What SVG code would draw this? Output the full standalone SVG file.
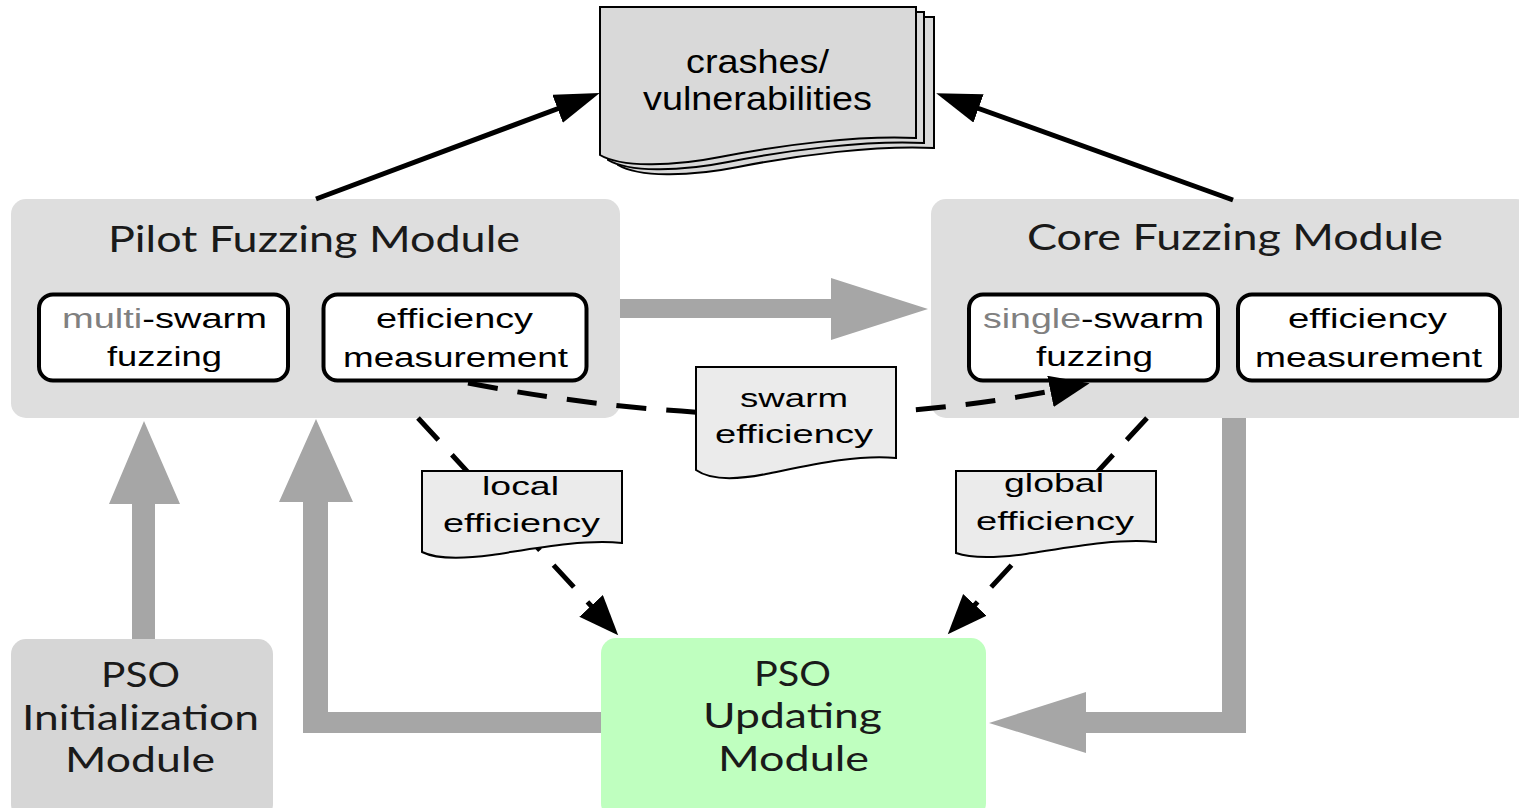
<svg xmlns="http://www.w3.org/2000/svg" xmlns:xlink="http://www.w3.org/1999/xlink" width="1519" height="808" viewBox="0 0 1519 808">
<style>
.module{fill:#dedede}
.sub{fill:#ffffff;stroke:#000;stroke-width:4}
.doc{fill:#ebebeb;stroke:#000;stroke-width:2}
.page{fill:#d9d9d9;stroke:#000;stroke-width:2}
.garrow{fill:#a6a6a6}
.solid{stroke:#000;stroke-width:5;fill:none}
.dash{stroke:#000;stroke-width:5;fill:none;stroke-dasharray:30 20}
.ar{font-family:"Liberation Sans",Arial,sans-serif;fill:#000}
.ttl{font-family:Lato,"DejaVu Sans",sans-serif;fill:#1a1a1a}
.grey{fill:#808080}
</style>
<defs>
<marker id="headSolid" markerUnits="userSpaceOnUse" markerWidth="46" markerHeight="32" refX="25" refY="15" orient="auto">
<path d="M0,0 L45,15 L0,30 Z" fill="#000"/>
</marker>
<marker id="headDash" markerUnits="userSpaceOnUse" markerWidth="42" markerHeight="34" refX="22" refY="16" orient="auto">
<path d="M0,0 L40,16 L0,32 Z" fill="#000"/>
</marker>
<path id="pageShape" d="M600,7 H916 V138 C860,135 780,145 720,157 C670,167 620,167 600,155 Z"/>
</defs>

<g id="pilot-module">
<rect class="module" x="11" y="199" width="609" height="219" rx="15"/>
<text class="ttl" x="108" y="252" font-size="37" textLength="412" lengthAdjust="spacingAndGlyphs">Pilot Fuzzing Module</text>
</g>
<g id="core-module">
<rect class="module" x="931" y="199" width="600" height="219" rx="15"/>
<text class="ttl" x="1027" y="250" font-size="37" textLength="416" lengthAdjust="spacingAndGlyphs">Core Fuzzing Module</text>
</g>
<g id="multi-swarm">
<rect class="sub" x="39" y="294.5" width="249" height="86" rx="14"/>
<text class="ar" x="62" y="328" font-size="27" textLength="205" lengthAdjust="spacingAndGlyphs"><tspan class="grey">multi</tspan>-swarm</text>
<text class="ar" x="107" y="366" font-size="27" textLength="115" lengthAdjust="spacingAndGlyphs">fuzzing</text>
</g>
<g id="pilot-efficiency">
<rect class="sub" x="323.5" y="294.5" width="263" height="86" rx="14"/>
<text class="ar" x="376" y="328" font-size="27" textLength="157" lengthAdjust="spacingAndGlyphs">efficiency</text>
<text class="ar" x="343" y="367" font-size="27" textLength="225" lengthAdjust="spacingAndGlyphs">measurement</text>
</g>
<g id="single-swarm">
<rect class="sub" x="969" y="294.5" width="249" height="86" rx="14"/>
<text class="ar" x="983" y="328" font-size="27" textLength="221" lengthAdjust="spacingAndGlyphs"><tspan class="grey">single</tspan>-swarm</text>
<text class="ar" x="1036" y="366" font-size="27" textLength="117" lengthAdjust="spacingAndGlyphs">fuzzing</text>
</g>
<g id="core-efficiency">
<rect class="sub" x="1238" y="294.5" width="262" height="86" rx="14"/>
<text class="ar" x="1288" y="328" font-size="27" textLength="159" lengthAdjust="spacingAndGlyphs">efficiency</text>
<text class="ar" x="1255" y="367" font-size="27" textLength="227" lengthAdjust="spacingAndGlyphs">measurement</text>
</g>
<g id="pso-init">
<rect x="11" y="639" width="262" height="180" rx="15" fill="#d6d6d6"/>
<text class="ttl" x="101" y="687" font-size="35" textLength="79" lengthAdjust="spacingAndGlyphs">PSO</text>
<text class="ttl" x="22" y="730" font-size="35" textLength="237" lengthAdjust="spacingAndGlyphs">Initialization</text>
<text class="ttl" x="65" y="772" font-size="35" textLength="150" lengthAdjust="spacingAndGlyphs">Module</text>
</g>
<g id="pso-update">
<rect x="601" y="638" width="385" height="180" rx="15" fill="#bfffbf"/>
<text class="ttl" x="754" y="686" font-size="35" textLength="77" lengthAdjust="spacingAndGlyphs">PSO</text>
<text class="ttl" x="703" y="728" font-size="35" textLength="179" lengthAdjust="spacingAndGlyphs">Updating</text>
<text class="ttl" x="718" y="771" font-size="35" textLength="151" lengthAdjust="spacingAndGlyphs">Module</text>
</g>

<g id="connectors">
<path class="garrow" d="M620,299 H831 V278 L928,309 L831,340 V318 H620 Z"/>
<path class="garrow" d="M132,639 V504 H109 L144,421 L180,504 H155 V639 Z"/>
<path class="garrow" d="M601,712 H328 V502 H353 L316,419 L279,502 H303 V733 H601 Z"/>
<path class="garrow" d="M1222,418 H1246 V733 H1086 V753 L989,723 L1086,692 V712 H1222 Z"/>
<line class="solid" x1="316" y1="199" x2="581" y2="100" marker-end="url(#headSolid)"/>
<line class="solid" x1="1233" y1="200" x2="955" y2="100" marker-end="url(#headSolid)"/>
<path class="dash" d="M468,383 Q790,445 1072,387" marker-end="url(#headDash)"/>
<line class="dash" x1="418" y1="418" x2="606" y2="622" marker-end="url(#headDash)"/>
<line class="dash" x1="1147" y1="418" x2="960" y2="621" marker-end="url(#headDash)"/>
</g>

<g id="crashes">
<use xlink:href="#pageShape" class="page" transform="translate(18,10)"/>
<use xlink:href="#pageShape" class="page" transform="translate(8,5)"/>
<use xlink:href="#pageShape" class="page"/>
<text class="ar" x="686" y="73" font-size="34" textLength="143" lengthAdjust="spacingAndGlyphs">crashes/</text>
<text class="ar" x="643" y="110" font-size="34" textLength="229" lengthAdjust="spacingAndGlyphs">vulnerabilities</text>
</g>
<g id="swarm-efficiency">
<path class="doc" d="M696,367 H896 V458 C856,454 806,466 766,474 C736,480 710,480 696,470 Z"/>
<text class="ar" x="740" y="407" font-size="26" textLength="108" lengthAdjust="spacingAndGlyphs">swarm</text>
<text class="ar" x="715" y="443" font-size="26" textLength="158" lengthAdjust="spacingAndGlyphs">efficiency</text>
</g>
<g id="local-efficiency">
<path class="doc" d="M422,471 H622 V543 C582,539 532,549 492,555 C462,559 436,559 422,552 Z"/>
<text class="ar" x="482" y="495" font-size="26" textLength="77" lengthAdjust="spacingAndGlyphs">local</text>
<text class="ar" x="443" y="532" font-size="26" textLength="157" lengthAdjust="spacingAndGlyphs">efficiency</text>
</g>
<g id="global-efficiency">
<path class="doc" d="M956,471 H1156 V542 C1116,538 1066,548 1026,554 C996,558 970,558 956,553 Z"/>
<text class="ar" x="1004" y="492" font-size="26" textLength="100" lengthAdjust="spacingAndGlyphs">global</text>
<text class="ar" x="976" y="530" font-size="26" textLength="158" lengthAdjust="spacingAndGlyphs">efficiency</text>
</g>
</svg>
